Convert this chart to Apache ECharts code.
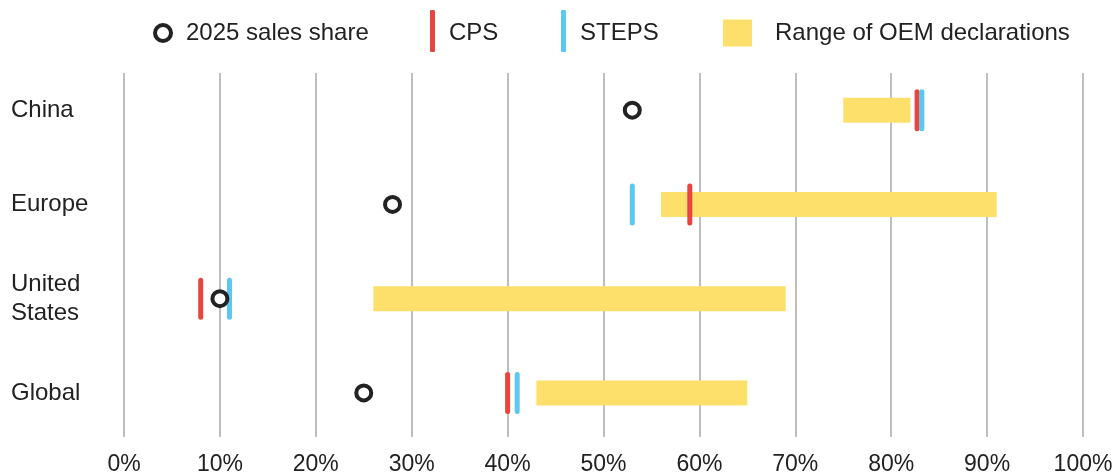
<!DOCTYPE html>
<html>
<head>
<meta charset="utf-8">
<script src="https://cdn.jsdelivr.net/npm/echarts@6/dist/echarts.min.js"></script>
<style>
html,body{margin:0;padding:0;background:#fff;}
#chart{width:1120px;height:476px;}
</style>
</head>
<body>
<div id="chart"></div>
<script>
var categories = ['China', 'Europe', 'United States', 'Global'];
var sales2025 = [53, 28, 10, 25];
var cps = [82.7, 59, 8, 40];
var steps = [83.2, 53, 11, 41];
var oemLow = [75, 56, 26, 43];
var oemHigh = [82, 91, 69, 65];
var xTicks = [0, 10, 20, 30, 40, 50, 60, 70, 80, 90, 100];

var FONT = '"Liberation Sans", Arial, sans-serif';
var TEXT = '#222222';
var RED = '#E8453F';
var BLUE = '#5BC8F2';
var YELLOW = '#FDDF6B';

var chart = echarts.init(document.getElementById('chart'), null, {renderer: 'canvas'});

function markRender(color) {
  return function (params, api) {
    var p = api.coord([api.value(0), api.value(1)]);
    return {
      type: 'line',
      shape: {x1: p[0], y1: p[1] - 18.5, x2: p[0], y2: p[1] + 18.5},
      style: {stroke: color, lineWidth: 5, lineCap: 'round'}
    };
  };
}

var legendText = {fontSize: 24, color: TEXT, fontFamily: FONT, lineHeight: 28};
var shiftedText = {
  fontSize: 24, color: TEXT, fontFamily: FONT, lineHeight: 28, padding: [0, 0, 0, 9],
  rich: {t: {fontSize: 24, color: TEXT, fontFamily: FONT, lineHeight: 28, padding: [4, 0, 0, 0]}}
};

var option = {
  backgroundColor: '#ffffff',
  animation: false,
  textStyle: {fontFamily: FONT},
  grid: [
    {left: 124, right: 37, top: 63, bottom: 36},
    {left: 124, right: 37, top: 73, bottom: 36}
  ],
  legend: [
    {
      left: 153, top: 19, padding: 0, itemWidth: 16, itemHeight: 16, selectedMode: false,
      textStyle: Object.assign({padding: [0, 0, 0, 10]}, legendText),
      data: [{name: '2025 sales share', icon: 'circle',
        itemStyle: {color: '#fff', borderColor: TEXT, borderWidth: 4}}]
    },
    {
      left: 430, top: 10, padding: 0, itemWidth: 5, itemHeight: 42, selectedMode: false,
      formatter: '{t|{name}}',
      textStyle: shiftedText,
      data: [{name: 'CPS', icon: 'roundRect', itemStyle: {color: RED}}]
    },
    {
      left: 561, top: 10, padding: 0, itemWidth: 5, itemHeight: 42, selectedMode: false,
      formatter: '{t|{name}}',
      textStyle: shiftedText,
      data: [{name: 'STEPS', icon: 'roundRect', itemStyle: {color: BLUE}}]
    },
    {
      left: 723, top: 19, padding: 0, itemWidth: 29, itemHeight: 27, selectedMode: false,
      textStyle: Object.assign({padding: [0, 0, 0, 18]}, legendText),
      data: [{name: 'Range of OEM declarations', icon: 'rect', itemStyle: {color: YELLOW}}]
    }
  ],
  xAxis: [
    {
      gridIndex: 0, type: 'value', min: 0, max: 100, interval: 10,
      axisLine: {show: false}, axisTick: {show: false},
      axisLabel: {show: false}, splitLine: {show: false}
    },
    {
      gridIndex: 1, type: 'value', min: xTicks[0], max: xTicks[xTicks.length - 1], interval: 10,
      axisLine: {show: false}, axisTick: {show: false},
      axisLabel: {show: true, formatter: '{value}%', fontSize: 23, color: TEXT, fontFamily: FONT, margin: 16},
      splitLine: {show: true, lineStyle: {color: '#a8a8a8', width: 1.5}}
    }
  ],
  yAxis: [
    {
      gridIndex: 0, type: 'category', data: categories, inverse: true,
      axisLine: {show: false}, axisTick: {show: false}, splitLine: {show: false},
      axisLabel: {
        fontSize: 24, color: TEXT, fontFamily: FONT, align: 'left', margin: 113,
        width: 90, overflow: 'break', lineHeight: 29
      }
    },
    {
      gridIndex: 1, type: 'category', data: categories, inverse: true, show: false
    }
  ],
  series: [
    {
      name: 'Range of OEM declarations', type: 'custom', xAxisIndex: 0, yAxisIndex: 0, z: 2,
      itemStyle: {color: YELLOW},
      encode: {x: [0, 1], y: 2},
      data: categories.map(function (c, i) { return [oemLow[i], oemHigh[i], i]; }),
      renderItem: function (params, api) {
        var a = api.coord([api.value(0), api.value(2)]);
        var b = api.coord([api.value(1), api.value(2)]);
        return {
          type: 'rect',
          shape: {x: a[0], y: a[1] - 12.5, width: b[0] - a[0], height: 25},
          style: {fill: YELLOW}
        };
      }
    },
    {
      name: 'CPS', type: 'custom', xAxisIndex: 0, yAxisIndex: 0, z: 3,
      itemStyle: {color: RED},
      encode: {x: 0, y: 1},
      data: categories.map(function (c, i) { return [cps[i], i]; }),
      renderItem: markRender(RED)
    },
    {
      name: 'STEPS', type: 'custom', xAxisIndex: 0, yAxisIndex: 0, z: 4,
      itemStyle: {color: BLUE},
      encode: {x: 0, y: 1},
      data: categories.map(function (c, i) { return [steps[i], i]; }),
      renderItem: markRender(BLUE)
    },
    {
      name: '2025 sales share', type: 'scatter', xAxisIndex: 0, yAxisIndex: 0, z: 5,
      symbol: 'circle', symbolSize: 15,
      itemStyle: {color: '#ffffff', borderColor: TEXT, borderWidth: 4, opacity: 1},
      data: categories.map(function (c, i) { return [sales2025[i], i]; })
    }
  ]
};

chart.setOption(option);
</script>
</body>
</html>
